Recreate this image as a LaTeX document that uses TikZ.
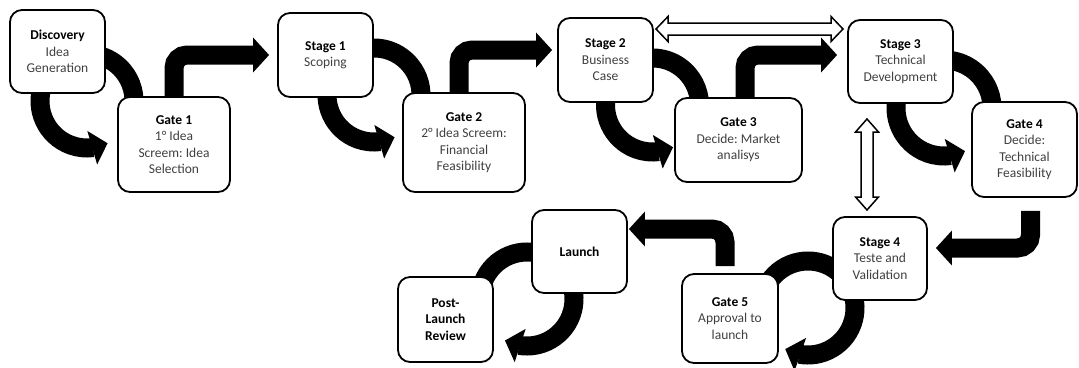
\documentclass[tikz,border=0pt]{standalone}
\usepackage{fontspec}
\setmainfont{Carlito}
\usetikzlibrary{arrows.meta,bending,calc,backgrounds}
\definecolor{bodytxt}{HTML}{404040}
\newcommand{\ttl}[1]{{\bfseries\color{black}#1}}
\frenchspacing
\begin{document}
\begin{tikzpicture}[x=1pt,y=1pt,
  box/.style={draw=black, line width=1.8pt, rounded corners=12pt, fill=white, align=center,
    inner sep=0pt, text=bodytxt, font=\fontsize{13.5}{16.5}\selectfont},
  band/.style={line width=19pt, draw=black},
  head/.style={-{Triangle[width=34pt,length=16pt]}},
  elbow/.style={band, head, rounded corners=13pt},
  dbl/.style={draw=black, fill=white, line width=1.5pt, line join=miter}]
\useasboundingbox (0,0) rectangle (1079,-367);

% boxes
\node[box, minimum width=95pt, minimum height=83pt] (disc) at (57.5,-51.5) {\ttl{Discovery}\\Idea\\Generation};
\node[box, minimum width=112pt, minimum height=95pt] (g1) at (174,-144.5) {\ttl{Gate 1}\\1° Idea\\Screem: Idea\\Selection};
\node[box, minimum width=95pt, minimum height=84pt] (s1) at (325.5,-55) {\ttl{Stage 1}\\Scoping};
\node[box, minimum width=122pt, minimum height=99pt] (g2) at (464,-142.5) {\ttl{Gate 2}\\2° Idea Screem:\\Financial\\Feasibility};
\node[box, minimum width=95pt, minimum height=84pt] (s2) at (605.5,-60) {\ttl{Stage 2}\\Business\\Case};
\node[box, minimum width=127pt, minimum height=84pt] (g3) at (738.5,-140) {\ttl{Gate 3}\\Decide: Market\\analisys};
\node[box, minimum width=105pt, minimum height=83pt] (s3) at (900.5,-61.5) {\ttl{Stage 3}\\Technical\\Development};
\node[box, minimum width=105pt, minimum height=95pt] (g4) at (1024.5,-149.5) {\ttl{Gate 4}\\Decide:\\Technical\\Feasibility};
\node[box, minimum width=94pt, minimum height=83pt] (s4) at (880,-258.5) {\ttl{Stage 4}\\Teste and\\Validation};
\node[box, minimum width=96pt, minimum height=89pt] (g5) at (730,-318.5) {\ttl{Gate 5}\\Approval to\\launch};
\node[box, minimum width=95pt, minimum height=83pt] (launch) at (579.5,-251.5) {\ttl{Launch}};
\node[box, minimum width=95pt, minimum height=85pt] (post) at (445.5,-319.5) {\ttl{Post-}\\\ttl{Launch}\\\ttl{Review}};

% circular arrow centres
\coordinate (c1) at (87,-101);
\coordinate (c2) at (374,-95);
\coordinate (c3) at (652.5,-105);
\coordinate (c4) at (944,-108);
\coordinate (c5) at (808,-308);
\coordinate (c6) at (527,-299);

\begin{pgfonlayer}{background}
  % stage -> gate circular arrows
  \foreach \c/\r in {c1/47, c2/47, c3/47, c4/48}{
    \draw[band] ($(\c)+(100:\r)$) arc[start angle=100, end angle=-10, radius=\r];
    \draw[band, head] ($(\c)+(160:\r)$) arc[start angle=160, end angle=296, radius=\r];
  }
  \foreach \c/\e in {c5/-119, c6/-118}{
    \draw[band] ($(\c)+(45:47)$) arc[start angle=45, end angle=180, radius=47];
    \draw[band, head] ($(\c)+(30:47)$) arc[start angle=30, end angle=\e, radius=47];
  }
  % gate -> stage elbow arrows
  \draw[elbow] (g1.north) |- ([xshift=-8pt]s1.west);
  \draw[elbow] ([xshift=-5pt]g2.north) |- ([xshift=-5pt,yshift=10pt]s2.west);
  \draw[elbow] ([xshift=6.5pt]g3.north) |- ([xshift=-10pt,yshift=6.5pt]s3.west);
  \draw[elbow] ([xshift=6pt,yshift=-13pt]g4.south) |- ([xshift=8pt,yshift=10.5pt]s4.east);
  \draw[elbow] ([xshift=-5pt,yshift=7pt]g5.north) |- ([xshift=1pt,yshift=22.5pt]launch.east);
\end{pgfonlayer}

% double arrows
\draw[dbl] (656,-29) -- (668,-16.5) -- (668,-23) -- (831,-23) -- (831,-16.5) -- (843,-29)
  -- (831,-41.5) -- (831,-35) -- (668,-35) -- (668,-41.5) -- cycle;
\draw[dbl] (867,-119) -- (878.5,-132) -- (873,-132) -- (873,-197) -- (878.5,-197) -- (867,-210)
  -- (855.5,-197) -- (861,-197) -- (861,-132) -- (855.5,-132) -- cycle;
\end{tikzpicture}
\end{document}
